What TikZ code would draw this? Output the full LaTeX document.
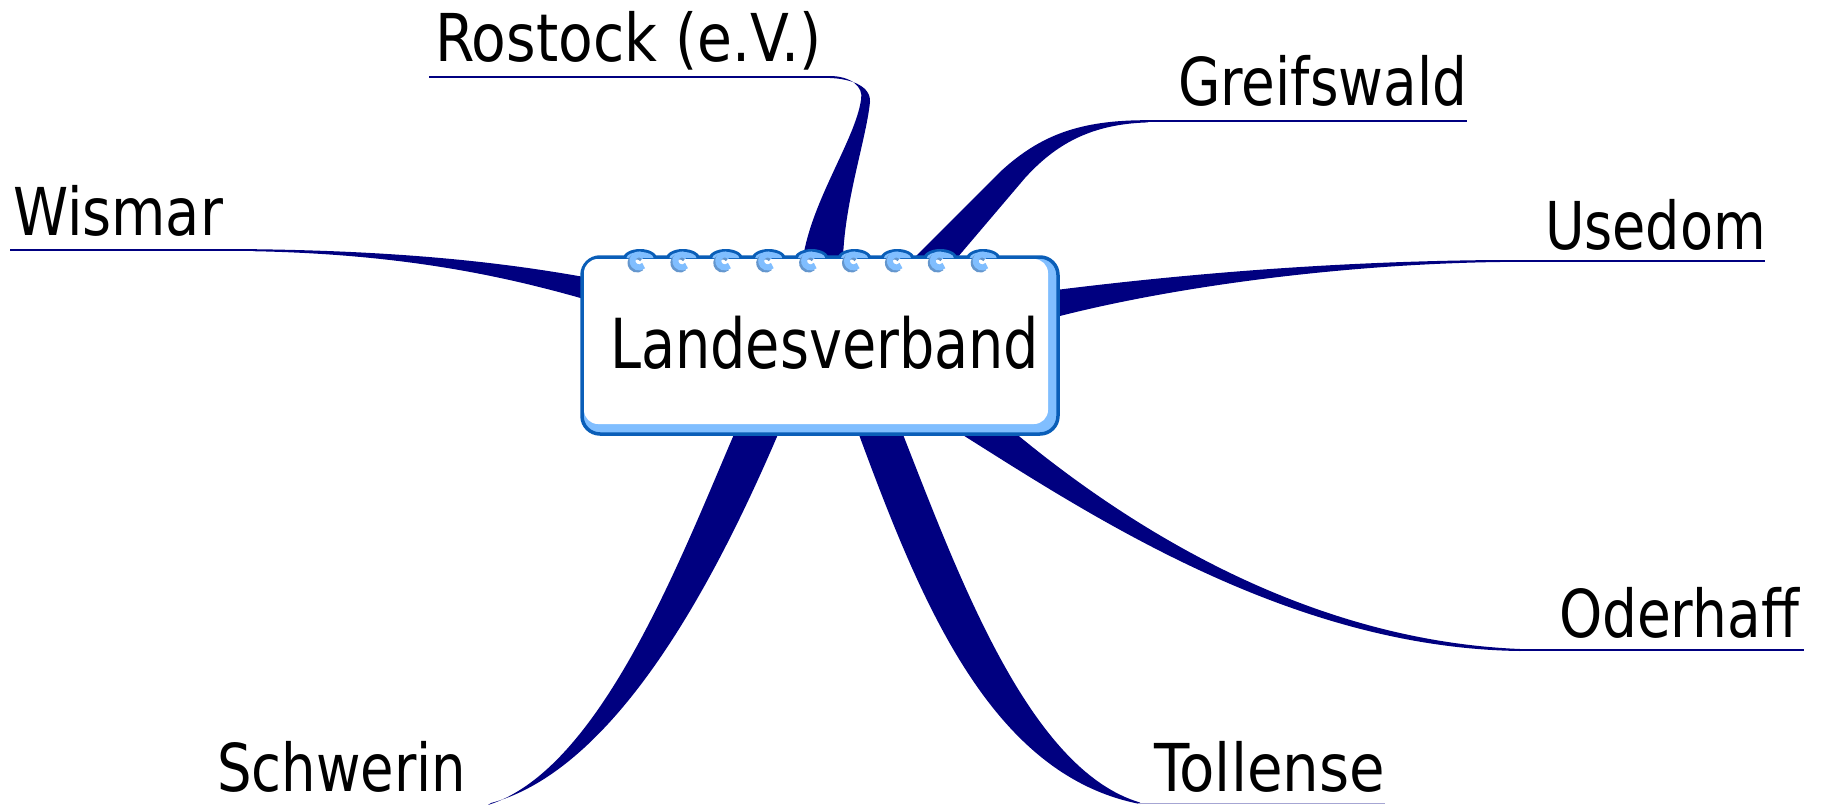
\documentclass[tikz,border=0pt]{standalone}
\usepackage{fontspec}
\setmainfont{DejaVu Sans}
\usepackage{graphicx}
\definecolor{navy}{RGB}{0,0,128}
\definecolor{boxdark}{RGB}{10,94,184}
\definecolor{boxlight}{RGB}{128,190,255}
\definecolor{ringshadow}{RGB}{100,150,205}
\begin{document}
\begin{tikzpicture}[x=1pt,y=-1pt,
  branch/.style={fill=navy},
  uline/.style={draw=navy, line width=2pt},
  lbl/.style={anchor=base west, inner sep=0pt, outer sep=0pt, font=\fontsize{66}{70}\selectfont}]
\useasboundingbox (0,0) rectangle (1825,805);

% label nodes
\node[lbl] (rostock)   at (435,62)   {\resizebox{387pt}{\height}{Rostock (e.V.)}};
\node[lbl] (greifs)    at (1178,106) {\resizebox{289pt}{\height}{Greifswald}};
\node[lbl] (usedom)    at (1545,249) {\resizebox{221pt}{\height}{Usedom}};
\node[lbl] (oderhaff)  at (1559,637) {\resizebox{240pt}{\height}{Oderhaff}};
\node[lbl] (tollense)  at (1154,791) {\resizebox{231pt}{\height}{Tollense}};
\node[lbl] (schwerin)  at (217,791)  {\resizebox{249pt}{\height}{Schwerin}};
\node[lbl] (wismar)    at (13,236)   {\resizebox{210pt}{\height}{Wismar}};

% underline end points
\coordinate (ro1) at (429,77);   \coordinate (ro2) at (832,77);
\coordinate (gr1) at (1146,121.3); \coordinate (gr2) at (1467,121.3);
\coordinate (us1) at (1498,261); \coordinate (us2) at (1765,261);
\coordinate (od1) at (1518,650); \coordinate (od2) at (1804,650);
\coordinate (wi1) at (10,250.2); \coordinate (wi2) at (255,250.2);
\coordinate (to1) at (1138,803.5); \coordinate (to2) at (1385,803.5);

% tapered branches
\fill[branch] (253,249.2) .. controls (400,251) and (500,262) .. (584,277) -- (584,299) .. controls (500,275) and (400,254) .. (253,251.2) -- cycle;
\fill[branch] (803,258) .. controls (812,200) and (855,140) .. (861,100) .. controls (864,86) and (850,76.2) .. (830,76) -- (830,78) .. controls (846,78.5) and (871,84) .. (870,102) .. controls (866,140) and (845,200) .. (843,258) -- cycle;
\fill[branch] (914,258) -- (1000,172) .. controls (1040,135) and (1080,120) .. (1148,120.2) -- (1148,122.4) .. controls (1090,124) and (1055,145) .. (1025,178) -- (957,258) -- cycle;
\fill[branch] (1056,290) .. controls (1200,272) and (1350,261) .. (1500,260) -- (1500,262) .. controls (1350,264) and (1180,285) .. (1056,317) -- cycle;
\fill[branch] (1014,432) .. controls (1120,520) and (1300,640) .. (1520,649) -- (1520,651) .. controls (1290,648) and (1090,515) .. (958,432) -- cycle;
\fill[branch] (858,432) .. controls (920,600) and (990,775) .. (1140,804) -- (1140,802.5) .. controls (1030,770) and (960,580) .. (902,432) -- cycle;
\fill[branch] (735,432) .. controls (680,560) and (600,770) .. (488,805) -- (491,803) .. controls (620,768) and (720,570) .. (779,432) -- cycle;

% underlines
\draw[uline] (ro1) -- (ro2);
\draw[uline] (gr1) -- (gr2);
\draw[uline] (us1) -- (us2);
\draw[uline] (od1) -- (od2);
\draw[uline] (wi1) -- (wi2);
\draw[draw=navy!35, line width=1.5pt] (to1) -- (to2);

% central notebook box
\draw[boxdark, line width=3.5pt, fill=boxlight, rounded corners=18pt] (582,257) rectangle (1058,434);
\fill[white, rounded corners=14pt] (584,259) rectangle (1048,424);

% spiral rings
\foreach \i in {0,...,8} {
  \pgfmathsetmacro\cx{640+42.9*\i}
  \fill[boxdark] (\cx-17,258.5) arc[start angle=180, end angle=360, x radius=17, y radius=9.5];
  \fill[boxlight] (\cx-13.5,258) arc[start angle=180, end angle=360, x radius=13.5, y radius=6];
  \draw[ringshadow, line width=6pt] (\cx+2,258.8) arc[start angle=-40, end angle=-315, radius=6.5];
  \draw[boxlight, line width=6pt] (\cx+4,256.8) arc[start angle=-40, end angle=-315, radius=6.5];
}

\node[anchor=base west, inner sep=0pt, font=\fontsize{69}{72}\selectfont] (lv) at (610,368) {\resizebox{429pt}{\height}{Landesverband}};
\end{tikzpicture}
\end{document}
